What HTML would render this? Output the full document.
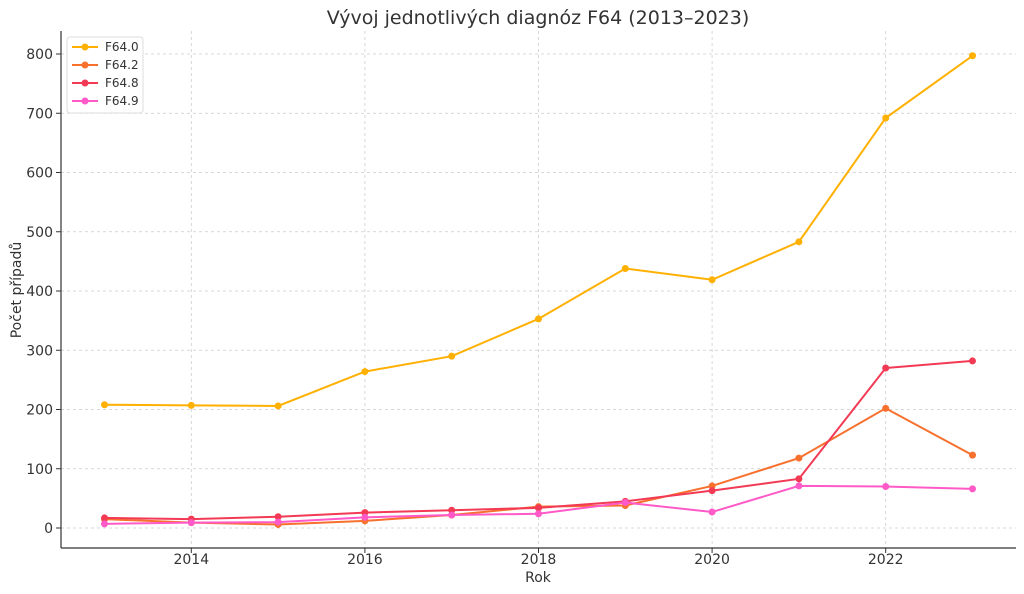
<!DOCTYPE html>
<html><head><meta charset="utf-8"><style>
html,body{margin:0;padding:0;background:#fff;}
svg{display:block;font-family:"DejaVu Sans","Liberation Sans",sans-serif;}
</style></head><body>
<svg id="chart" width="1024" height="594">
<text x="538" y="24" text-anchor="middle" font-size="19" fill="#333">Vývoj jednotlivých diagnóz F64 (2013–2023)</text>
<g id="grid"></g><g id="axes"></g><g id="series"></g>
<text x="538" y="582" text-anchor="middle" font-size="14" fill="#333">Rok</text>
<text transform="translate(21,290) rotate(-90)" text-anchor="middle" font-size="14" fill="#333">Počet případů</text>
<g id="legend"></g>
</svg>
<script>
const years=[2013,2014,2015,2016,2017,2018,2019,2020,2021,2022,2023];
const f640=[208,207,206,264,290,353,438,419,483,692,797];
const f642=[15,9,6,12,22,36,38,71,118,202,123];
const f648=[17,15,19,26,30,34,45,63,83,270,282];
const f649=[7,9,10,18,22,24,43,27,71,70,66];
const xTicks=[2014,2016,2018,2020,2022];
const yTicks=[0,100,200,300,400,500,600,700,800];
const seriesNames=["F64.0","F64.2","F64.8","F64.9"];
const colors=["#ffb000","#f8702d","#f23a55","#ff5ac8"];
const NS="http://www.w3.org/2000/svg";
const L=61,R=1016,T=31,B=548;
const xs=y=>104.5+(y-2013)*86.8;
const ys=v=>528-v*0.5925;
function mk(tag,attrs,parent){const e=document.createElementNS(NS,tag);for(const k in attrs)e.setAttribute(k,attrs[k]);parent.appendChild(e);return e;}
const grid=document.getElementById('grid'),axes=document.getElementById('axes'),ser=document.getElementById('series'),leg=document.getElementById('legend');
xTicks.forEach(t=>{const x=xs(t);
const g=mk('line',{x1:x,x2:x,y1:T,y2:B,stroke:'#ccc','stroke-dasharray':'3,3','stroke-width':0.8},grid);


mk('line',{x1:x,x2:x,y1:B,y2:B+5,stroke:'#333'},axes);
const tx=mk('text',{x:x,y:B+16,'text-anchor':'middle','font-size':14,fill:'#333'},axes);tx.textContent=t;

});
yTicks.forEach(t=>{const y=ys(t);
const g=mk('line',{x1:L,x2:R,y1:y,y2:y,stroke:'#ccc','stroke-dasharray':'3,3','stroke-width':0.8},grid);


mk('line',{x1:L-5,x2:L,y1:y,y2:y,stroke:'#333'},axes);
const tx=mk('text',{x:L-8,y:y+5,'text-anchor':'end','font-size':14,fill:'#333'},axes);tx.textContent=t;

});
mk('line',{x1:L,x2:L,y1:T,y2:B,stroke:'#333','stroke-width':1.2},axes);
mk('line',{x1:L,x2:R,y1:B,y2:B,stroke:'#333','stroke-width':1.2},axes);
[f640,f642,f648,f649].forEach((d,i)=>{
const pl=mk('polyline',{points:d.map((v,j)=>xs(years[j])+','+ys(v)).join(' '),fill:'none',stroke:colors[i],'stroke-width':2},ser);


d.forEach((v,j)=>{const c=mk('circle',{cx:xs(years[j]),cy:ys(v),r:3.5,fill:colors[i]},ser);

});});
const box=mk('rect',{x:67,y:37,width:76,height:76,fill:'#fff',stroke:'#ddd',rx:3},leg);


seriesNames.forEach((n,i)=>{const y=47+i*18;
mk('line',{x1:72,x2:98,y1:y,y2:y,stroke:colors[i],'stroke-width':2},leg);
mk('circle',{cx:85,cy:y,r:3.5,fill:colors[i]},leg);
const tx=mk('text',{x:105,y:y+4,'font-size':12,fill:'#333'},leg);tx.textContent=n;

});
</script>
</body></html>
